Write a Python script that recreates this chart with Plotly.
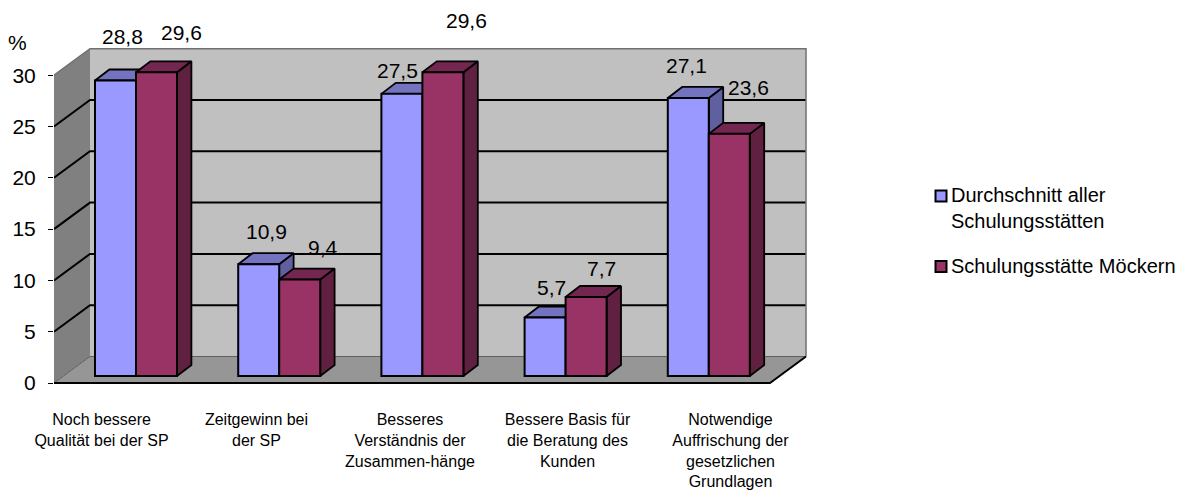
import plotly.graph_objects as go

CATEGORIES = ["Noch bessere<br>Qualität bei der SP", "Zeitgewinn bei<br>der SP",
              "Besseres<br>Verständnis der<br>Zusammen-hänge", "Bessere Basis für<br>die Beratung des<br>Kunden",
              "Notwendige<br>Auffrischung der<br>gesetzlichen<br>Grundlagen"]
AVG = [28.8, 10.9, 27.5, 5.7, 27.1]
MOECKERN = [29.6, 9.4, 29.6, 7.7, 23.6]
AVG_LABELS = ["28,8", "10,9", "27,5", "5,7", "27,1"]
MOE_LABELS = ["29,6", "9,4", "29,6", "7,7", "23,6"]
AVG_NAME = "Durchschnitt aller<br>Schulungsstätten"
MOE_NAME = "Schulungsstätte Möckern"
Y_TICKS = [0, 5, 10, 15, 20, 25, 30]

# label shifts in px relative to the front-top centre of each bar
AVG_SHIFT = [(6.5, 44.5), (7.5, 33), (-4, 23), (6, 30), (-2, 32)]
MOE_SHIFT = [(24.5, 40), (23, 32), (24, 52), (15, 29), (19, 46)]
CAT_LABEL_OFFSET = [-0.168, -0.086, -0.014, 0.086, 0.224]

PAGE = 8  # default page margin round the plot div
W, H = 1187 - PAGE, 490 - PAGE
PX_X = 143.2
PX_Y = 10.26
L, R, T, B = 54 - PAGE, 807 - PAGE, 46 - PAGE, 386 - PAGE
Y0_PX = 383.0 - PAGE
X_MIN = -0.5
x_max = X_MIN + (R - L) / PX_X
y_min = -(B - Y0_PX) / PX_Y
y_max = (Y0_PX - T) / PX_Y

WALL_DX, WALL_DY = 36 / PX_X, 26.5 / PX_Y
BASE_DY = 7 / PX_Y
BAR_W = 41 / PX_X
BLUE_OFF, RED_OFF = -30.6 / PX_X, 10.4 / PX_X
DEP_DX, DEP_DY = 14.4 / PX_X, 11 / PX_Y

BLUE, BLUE_TOP, BLUE_SIDE = "#9999FF", "#7373BF", "#6060A0"
RED, RED_TOP, RED_SIDE = "#993366", "#732650", "#602040"
idx = list(range(len(AVG)))
fig = go.Figure()


def poly(pts, fill, line="rgba(0,0,0,0)", w=0):
    xs, ys = [], []
    for p in pts:
        xs += [q[0] for q in p] + [p[0][0], None]
        ys += [q[1] for q in p] + [p[0][1], None]
    fig.add_trace(go.Scatter(x=xs, y=ys, mode="lines", fill="toself", fillcolor=fill,
                             line=dict(color=line, width=w), hoverinfo="skip", showlegend=False))


def lines(segs, color, w):
    xs, ys = [], []
    for s in segs:
        xs += [q[0] for q in s] + [None]
        ys += [q[1] for q in s] + [None]
    fig.add_trace(go.Scatter(x=xs, y=ys, mode="lines", line=dict(color=color, width=w),
                             hoverinfo="skip", showlegend=False))


xl, xr, top = X_MIN, 4.5, Y_TICKS[-1]
poly([[(xl + WALL_DX, WALL_DY), (xr + WALL_DX, WALL_DY), (xr + WALL_DX, top + WALL_DY), (xl + WALL_DX, top + WALL_DY)]], "#C0C0C0")
poly([[(xl, 0), (xl + WALL_DX, WALL_DY), (xl + WALL_DX, top + WALL_DY), (xl, top)]], "#808080")
poly([[(xl, 0), (xr, 0), (xr + WALL_DX, WALL_DY), (xl + WALL_DX, WALL_DY)]], "#969696")
lines([[(xl, v), (xl + WALL_DX, v + WALL_DY), (xr + WALL_DX, v + WALL_DY)] for v in Y_TICKS[1:-1]], "#000000", 2)
lines([[(xl, top), (xl + WALL_DX, top + WALL_DY), (xr + WALL_DX, top + WALL_DY), (xr + WALL_DX, WALL_DY)]], "#707070", 1.5)
lines([[(xl, 0), (xl + WALL_DX, WALL_DY), (xr + WALL_DX, WALL_DY)]], "#606060", 1)
lines([[(xl, 0), (xr, 0), (xr + WALL_DX, WALL_DY)]], "#000000", 2)


def depth(values, off, c_top, c_side):
    tops, sides = [], []
    for i, v in zip(idx, values):
        a, b, t0, t1 = i + off, i + off + BAR_W, BASE_DY, BASE_DY + v
        tops.append([(a, t1), (b, t1), (b + DEP_DX, t1 + DEP_DY), (a + DEP_DX, t1 + DEP_DY)])
        sides.append([(b, t0), (b + DEP_DX, t0 + DEP_DY), (b + DEP_DX, t1 + DEP_DY), (b, t1)])
    poly(sides, c_side, "#000000", 1.8)
    poly(tops, c_top, "#000000", 1.8)


depth(AVG, BLUE_OFF, BLUE_TOP, BLUE_SIDE)
depth(MOECKERN, RED_OFF, RED_TOP, RED_SIDE)

for vals, off, col, name in [(AVG, BLUE_OFF, BLUE, "Durchschnitt aller Schulungsstätten"),
                             (MOECKERN, RED_OFF, RED, "Schulungsstätte Möckern")]:
    fig.add_trace(go.Bar(x=idx, y=vals, base=BASE_DY, width=BAR_W, offset=off, name=name,
                         marker=dict(color=col, line=dict(color="#000000", width=2)),
                         xaxis="x2", yaxis="y2", showlegend=False))

FONT = "Liberation Sans, Arial, sans-serif"
anns = []
for vals, off, texts, shifts in [(AVG, BLUE_OFF, AVG_LABELS, AVG_SHIFT), (MOECKERN, RED_OFF, MOE_LABELS, MOE_SHIFT)]:
    for i, v, t, (sx, sy) in zip(idx, vals, texts, shifts):
        anns.append(dict(x=i + off + BAR_W / 2, y=v + BASE_DY, xref="x", yref="y", text=t, showarrow=False,
                         xshift=sx, yshift=sy, font=dict(size=21, color="#000000", family=FONT)))


def px(x): return (x - PAGE - L) / (R - L)
def py(y): return (B - (y - PAGE)) / (B - T)


anns.append(dict(x=px(17), y=py(42), xref="paper", yref="paper", text="%", showarrow=False,
                 xanchor="center", yanchor="middle", font=dict(size=21, color="#000000", family=FONT)))
for (ty, text) in [(208, AVG_NAME), (266, MOE_NAME)]:
    anns.append(dict(x=px(949), y=py(ty), xref="paper", yref="paper", text=text, showarrow=False, xanchor="left",
                     yanchor="middle", align="left", font=dict(size=20, color="#000000", family=FONT)))
shapes = []
for (y0, col) in [(190.5, BLUE), (261, RED)]:
    shapes.append(dict(type="rect", xref="paper", yref="paper", x0=px(935.5), x1=px(946.5), y0=py(y0), y1=py(y0 + 11),
                       fillcolor=col, line=dict(color="#000000", width=2)))

fig.update_layout(
    template="none",
    width=W, height=H, autosize=False, paper_bgcolor="#FFFFFF", plot_bgcolor="rgba(0,0,0,0)",
    margin=dict(l=L, r=W - R, t=T, b=H - B, pad=0), barmode="overlay", showlegend=False,
    annotations=anns, shapes=shapes, font=dict(family=FONT, color="#000000"),
    xaxis=dict(automargin=False, range=[X_MIN, x_max], tickmode="array", tickvals=[i + o for i, o in zip(idx, CAT_LABEL_OFFSET)],
               ticktext=CATEGORIES, tickangle=0, showgrid=False, zeroline=False, showline=False, ticks="",
               ticklabelstandoff=22, tickfont=dict(size=16, family=FONT, color="#000000")),
    yaxis=dict(automargin=False, range=[y_min, y_max], tickmode="array", tickvals=Y_TICKS, showgrid=False, zeroline=False,
               showline=False, ticks="outside", ticklen=5, tickcolor="#000000", tickwidth=1,
               ticklabelstandoff=8, tickfont=dict(size=21, family=FONT, color="#000000")),
    xaxis2=dict(range=[X_MIN, x_max], overlaying="x", visible=False),
    yaxis2=dict(range=[y_min, y_max], overlaying="y", visible=False),
)
fig.write_html("out.html")
